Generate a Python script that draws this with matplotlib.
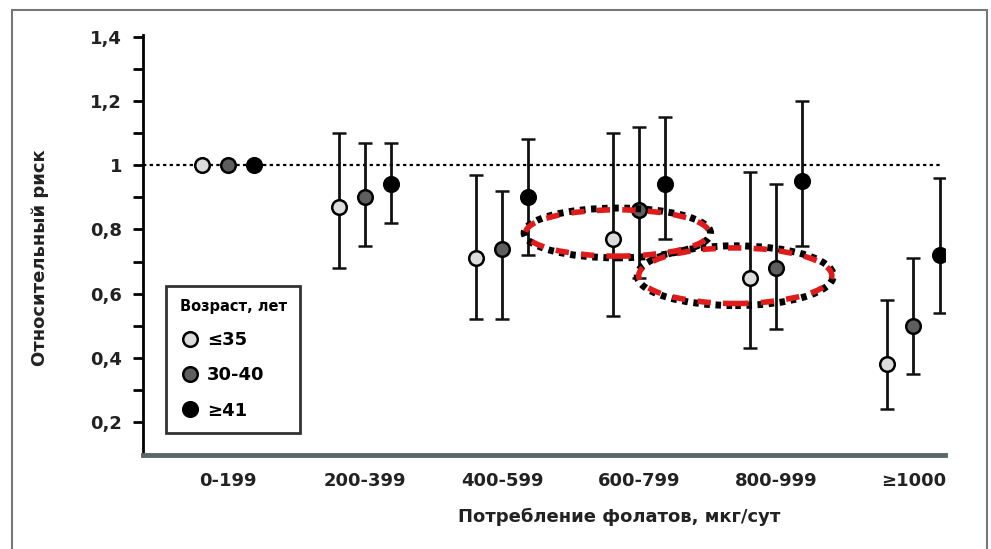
import matplotlib.pyplot as plt
from matplotlib.patches import Ellipse, Rectangle
from matplotlib.lines import Line2D

# Data
categories = ['0-199', '200-399', '400-599', '600-799', '800-999', '≥1000']
groups = ['≤35', '30-40', '≥41']

rr_le35 = [1.00, 0.87, 0.71, 0.77, 0.65, 0.38]
lo_le35 = [1.00, 0.68, 0.52, 0.53, 0.43, 0.24]
hi_le35 = [1.00, 1.10, 0.97, 1.10, 0.98, 0.58]

rr_30_40 = [1.00, 0.90, 0.74, 0.86, 0.68, 0.50]
lo_30_40 = [1.00, 0.75, 0.52, 0.65, 0.49, 0.35]
hi_30_40 = [1.00, 1.07, 0.92, 1.12, 0.94, 0.71]

rr_ge41 = [1.00, 0.94, 0.90, 0.94, 0.95, 0.72]
lo_ge41 = [1.00, 0.82, 0.72, 0.77, 0.75, 0.54]
hi_ge41 = [1.00, 1.07, 1.08, 1.15, 1.20, 0.96]

fig = plt.figure(figsize=(9.91, 5.49), dpi=100)
ax = fig.add_axes([0.1443, 0.1712, 0.8093, 0.765])

# outer grey frame
fig.patches.append(Rectangle((12 / 991, -0.05), (987 - 12) / 991, 1 - 10 / 549 + 0.05,
                             transform=fig.transFigure, fill=False,
                             edgecolor='#777777', linewidth=1.5))

x = range(len(categories))
offsets = [-0.19, 0.0, 0.19]
colors = ['#dcdcdc', '#5e5e5e', '#000000']
series = [(rr_le35, lo_le35, hi_le35), (rr_30_40, lo_30_40, hi_30_40), (rr_ge41, lo_ge41, hi_ge41)]

ax.axhline(1.0, xmin=0, xmax=0.995, color='black', linestyle=(0, (1.5, 1.5)), linewidth=1.6, zorder=1)

for (rr, lo, hi), off, c in zip(series, offsets, colors):
    xs = [i + off for i in x]
    err = [[r - l for r, l in zip(rr, lo)], [h - r for r, h in zip(rr, hi)]]
    ax.errorbar(xs, rr, yerr=err, fmt='o', color='black', ecolor='#111111',
                elinewidth=2, capsize=5, capthick=2.2, markersize=10.5,
                markerfacecolor=c, markeredgecolor='black', markeredgewidth=1.8, zorder=3)

# highlighted ellipses
for (cx, cy, w, h) in [(2.84, 0.789, 1.36, 0.155), (3.70, 0.656, 1.43, 0.186)]:
    e1 = Ellipse((cx, cy), w, h, fill=False, edgecolor='black', linewidth=5, zorder=5)
    e1.set_linestyle((0, (0.8, 0.8)))
    ax.add_patch(e1)
    e2 = Ellipse((cx, cy), w * 0.985, h * 0.93, fill=False, edgecolor='#e01b1b', linewidth=4, zorder=6)
    e2.set_linestyle((0, (2.4, 2.2)))
    ax.add_patch(e2)

ax.set_xlim(-0.62, 5.23)
ax.set_ylim(0.098, 1.405)
ax.set_xticks(list(x))
ax.set_xticklabels(categories)
ax.set_yticks([0.2, 0.4, 0.6, 0.8, 1.0, 1.2, 1.4])
ax.set_yticklabels(['0,2', '0,4', '0,6', '0,8', '1', '1,2', '1,4'])
ax.set_yticks([0.3, 0.5, 0.7, 0.9, 1.1, 1.3], minor=True)

for lab in ax.get_xticklabels() + ax.get_yticklabels():
    lab.set_fontweight('bold')
    lab.set_fontsize(13)
    lab.set_color('#222222')

ax.tick_params(axis='y', which='both', direction='out', length=7, width=2, pad=8)
ax.tick_params(axis='x', length=0, pad=12)

for s in ['top', 'right']:
    ax.spines[s].set_visible(False)
ax.spines['left'].set_linewidth(2)
ax.spines['bottom'].set_linewidth(3.5)
ax.spines['bottom'].set_color('#5b6767')

fig.text(40 / 991, 1 - 258 / 549, 'Относительный риск', fontsize=13, fontweight='bold',
         rotation=90, ha='center', va='center', color='#222222')
fig.text(0.625, 0.058, 'Потребление фолатов, мкг/сут', fontsize=13, fontweight='bold',
         ha='center', va='center', color='#222222')

# legend
handles = [Line2D([], [], linestyle='none', marker='o', markersize=10.5, markerfacecolor=c,
                  markeredgecolor='black', markeredgewidth=1.8) for c in colors]
leg = ax.legend(handles, groups, title='Возраст, лет', loc='lower left',
                bbox_to_anchor=(0.0287, 0.052), frameon=True, fancybox=False,
                handletextpad=0.3, labelspacing=0.95, borderpad=0.75, handlelength=1.2,
                borderaxespad=0, prop={'weight': 'bold', 'size': 13})
leg.get_title().set_fontweight('bold')
leg.get_title().set_fontsize(10.5)
leg.get_frame().set_edgecolor('black')
leg.get_frame().set_linewidth(2)
leg._legend_box.align = 'left'

fig.savefig('out.png', dpi=100)
